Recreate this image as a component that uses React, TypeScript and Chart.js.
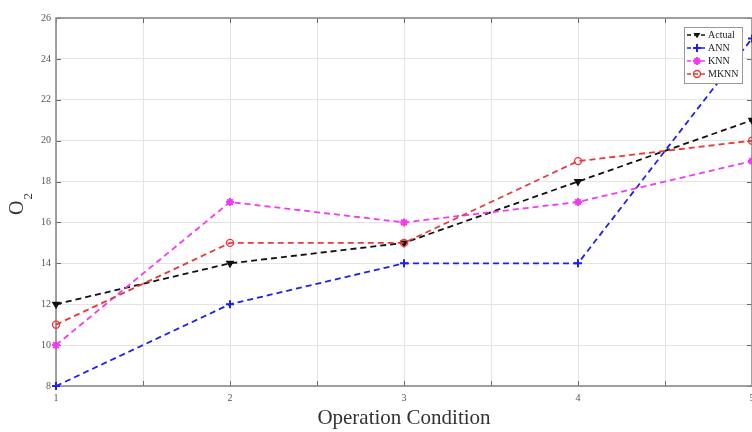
import React, { useEffect, useRef } from 'react';
import { Chart, registerables } from 'chart.js';

Chart.register(...registerables);

// ---- data ----
const conditions = [1, 2, 3, 4, 5];
const actualValues = [12, 14, 15, 18, 21];
const annValues = [8, 12, 14, 14, 25];
const knnValues = [10, 17, 16, 17, 19];
const mknnValues = [11, 15, 15, 19, 20];
const seriesNames = ['Actual', 'ANN', 'KNN', 'MKNN'];
const xTitle = 'Operation Condition';
const yMin = 8;
const yMax = 26;
const xMin = 1;
const xMax = 5;

const SERIF = '"Liberation Serif", "Times New Roman", serif';

const styles = [
  { color: '#111111', point: 'triangle', rotation: 180, radius: 3.5, bw: 1.5, bg: '#111111' },
  { color: '#1f1fee', point: 'cross', rotation: 0, radius: 4, bw: 2, bg: '#1f1fee' },
  { color: '#f03cf0', point: 'star', rotation: 0, radius: 4, bw: 2, bg: '#f03cf0' },
  { color: '#e83a3a', point: 'circle', rotation: 0, radius: 3.5, bw: 1.4, bg: 'rgba(255,255,255,0)' },
];

function drawMarker(ctx: CanvasRenderingContext2D, i: number, x: number, y: number) {
  const s = styles[i];
  ctx.save();
  ctx.strokeStyle = s.color;
  ctx.fillStyle = s.color;
  ctx.lineWidth = s.bw;
  ctx.setLineDash([]);
  const r = s.radius;
  ctx.beginPath();
  if (s.point === 'triangle') {
    ctx.moveTo(x - r, y - r * 0.6);
    ctx.lineTo(x + r, y - r * 0.6);
    ctx.lineTo(x, y + r * 0.9);
    ctx.closePath();
    ctx.fill();
  } else if (s.point === 'cross') {
    ctx.moveTo(x - r, y); ctx.lineTo(x + r, y);
    ctx.moveTo(x, y - r); ctx.lineTo(x, y + r);
    ctx.stroke();
  } else if (s.point === 'star') {
    ctx.moveTo(x - r, y); ctx.lineTo(x + r, y);
    ctx.moveTo(x, y - r); ctx.lineTo(x, y + r);
    const d = r * 0.7;
    ctx.moveTo(x - d, y - d); ctx.lineTo(x + d, y + d);
    ctx.moveTo(x - d, y + d); ctx.lineTo(x + d, y - d);
    ctx.stroke();
  } else {
    ctx.arc(x, y, r, 0, Math.PI * 2);
    ctx.stroke();
  }
  ctx.restore();
}

const framePlugin = {
  id: 'matlabFrame',
  beforeDatasetsDraw(chart: any) {
    const { ctx, chartArea: a, scales } = chart;
    const xs = scales.x;
    const ys = scales.y;
    ctx.save();
    ctx.strokeStyle = '#6a6a6a';
    ctx.lineWidth = 1;
    ctx.beginPath();
    xs.ticks.forEach((t: any) => {
      const px = Math.round(xs.getPixelForValue(t.value)) + 0.5;
      ctx.moveTo(px, a.bottom); ctx.lineTo(px, a.bottom - 5);
      ctx.moveTo(px, a.top); ctx.lineTo(px, a.top + 5);
    });
    ys.ticks.forEach((t: any) => {
      const py = Math.round(ys.getPixelForValue(t.value)) + 0.5;
      ctx.moveTo(a.left, py); ctx.lineTo(a.left + 5, py);
      ctx.moveTo(a.right, py); ctx.lineTo(a.right - 5, py);
    });
    ctx.stroke();
    ctx.strokeStyle = '#8a8a8a';
    ctx.lineWidth = 1.6;
    ctx.strokeRect(a.left, a.top, a.right - a.left, a.bottom - a.top);
    ctx.restore();
  },
  afterDraw(chart: any) {
    const { ctx, chartArea: a } = chart;
    ctx.save();
    // x title
    ctx.fillStyle = '#333333';
    ctx.font = `21px ${SERIF}`;
    ctx.textAlign = 'center';
    ctx.textBaseline = 'alphabetic';
    ctx.fillText(xTitle, (a.left + a.right) / 2, 424);
    // y title O2
    ctx.save();
    ctx.translate(23, (a.top + a.bottom) / 2 + 13);
    ctx.rotate(-Math.PI / 2);
    ctx.textAlign = 'left';
    ctx.font = `20px ${SERIF}`;
    ctx.fillText('O', 0, 0);
    const w = ctx.measureText('O').width;
    ctx.font = `13px ${SERIF}`;
    ctx.fillText('2', w + 1, 9);
    ctx.restore();

    // legend
    const bx = a.right - 68;
    const by = a.top + 9;
    const bw = 58;
    const bh = 56;
    ctx.fillStyle = '#ffffff';
    ctx.fillRect(bx, by, bw, bh);
    ctx.strokeStyle = '#999999';
    ctx.lineWidth = 1;
    ctx.strokeRect(bx + 0.5, by + 0.5, bw, bh);
    ctx.font = `10px ${SERIF}`;
    ctx.textAlign = 'left';
    ctx.textBaseline = 'middle';
    seriesNames.forEach((name, i) => {
      const y = by + 8 + i * 13;
      ctx.strokeStyle = styles[i].color;
      ctx.lineWidth = 1.6;
      ctx.setLineDash([4, 3]);
      ctx.beginPath();
      ctx.moveTo(bx + 3, y);
      ctx.lineTo(bx + 21, y);
      ctx.stroke();
      ctx.setLineDash([]);
      drawMarker(ctx, i, bx + 13, y);
      ctx.fillStyle = '#222222';
      ctx.fillText(name, bx + 24, y + 0.5);
    });
    ctx.restore();
  },
};

const CANVAS_W = 758;
const CANVAS_H = 432;

export default function App() {
  const canvasRef = useRef<HTMLCanvasElement | null>(null);

  useEffect(() => {
    const canvas = canvasRef.current;
    if (!canvas) return;
    const allValues = [actualValues, annValues, knnValues, mknnValues];
    const datasets = allValues.map((vals, i) => ({
      label: seriesNames[i],
      data: conditions.map((x, j) => ({ x, y: vals[j] })),
      borderColor: styles[i].color,
      backgroundColor: styles[i].bg,
      borderWidth: 1.8,
      borderDash: [6, 4],
      pointStyle: styles[i].point as any,
      pointRotation: styles[i].rotation,
      pointRadius: styles[i].radius,
      pointBorderWidth: styles[i].bw,
      pointBorderColor: styles[i].color,
      pointBackgroundColor: styles[i].bg,
      tension: 0,
      clip: false as any,
      order: 4 - i,
    }));

    const chart = new Chart(canvas, {
      type: 'line',
      data: { datasets },
      options: {
        animation: false,
        responsive: false,
        devicePixelRatio: 1,
        layout: { padding: { top: 18, left: 0, right: 0, bottom: 0 } },
        plugins: { legend: { display: false }, tooltip: { enabled: false } },
        scales: {
          x: {
            type: 'linear',
            min: xMin,
            max: xMax,
            afterFit: (s: any) => {
              s.height = 46;
              s.paddingLeft = 0;
              s.paddingRight = 0;
            },
            ticks: {
              stepSize: 0.5,
              padding: 6,
              autoSkip: false,
              maxRotation: 0,
              color: '#555555',
              font: { family: SERIF, size: 10 },
              callback: (v: any) => (Number.isInteger(Number(v)) ? String(v) : ''),
            },
            grid: { color: '#e4e4e4', drawTicks: false, lineWidth: 1 },
            border: { display: false },
          },
          y: {
            type: 'linear',
            min: yMin,
            max: yMax,
            afterFit: (s: any) => {
              s.width = 56;
              s.paddingTop = 0;
              s.paddingBottom = 0;
            },
            ticks: {
              stepSize: 2,
              padding: 5,
              color: '#555555',
              font: { family: SERIF, size: 10 },
            },
            grid: { color: '#e4e4e4', drawTicks: false, lineWidth: 1 },
            border: { display: false },
          },
        },
      },
      plugins: [framePlugin],
    });
    return () => chart.destroy();
  }, []);

  return (
    <div style={{ position: 'absolute', left: 0, top: 0, width: 752, height: 432, overflow: 'hidden', background: '#ffffff' }}>
      <canvas ref={canvasRef} width={CANVAS_W} height={CANVAS_H} style={{ display: 'block', width: CANVAS_W, height: CANVAS_H }} />
    </div>
  );
}
